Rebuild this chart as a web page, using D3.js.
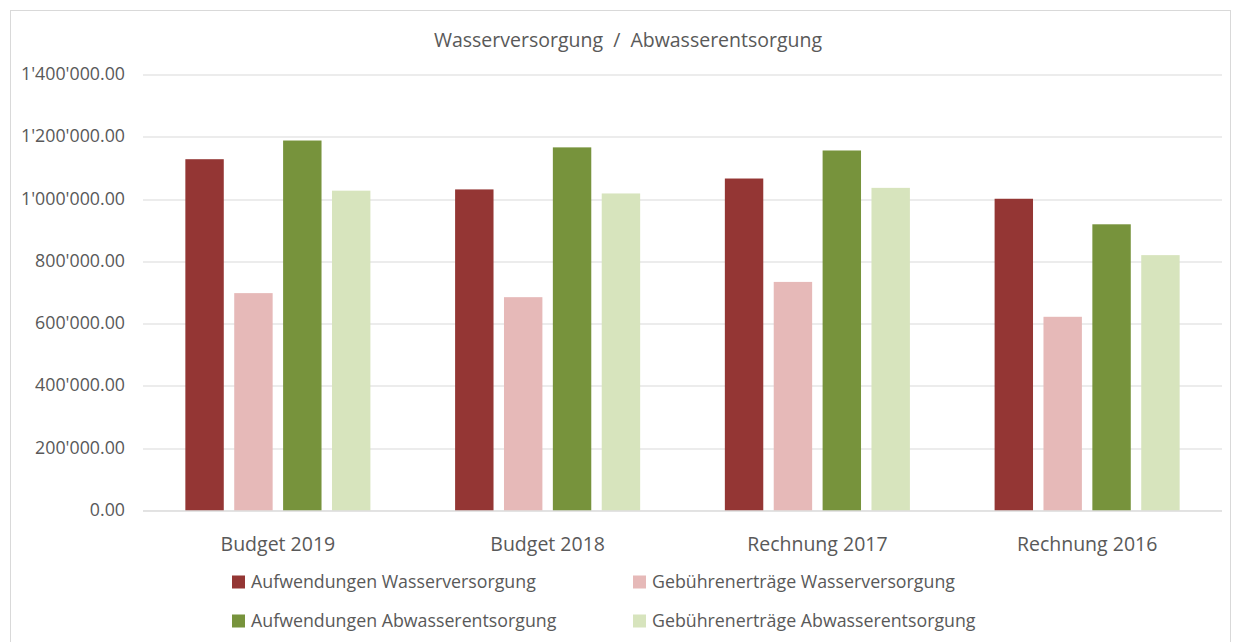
<!DOCTYPE html>
<html>
<head>
<meta charset="utf-8">
<script src="https://cdn.jsdelivr.net/npm/d3@7"></script>
<style>
  body { margin: 0; background: #fff; }
  svg text { font-family: "Open Sans", "Noto Sans", sans-serif; fill: #595959; }
</style>
</head>
<body>
<svg id="chart" width="1240" height="642"></svg>
<script>
var categories = ["Budget 2019", "Budget 2018", "Rechnung 2017", "Rechnung 2016"];
var seriesNames = [
  "Aufwendungen Wasserversorgung",
  "Gebührenerträge Wasserversorgung",
  "Aufwendungen Abwasserentsorgung",
  "Gebührenerträge Abwasserentsorgung"
];
var aufwWasser = [1128000, 1031000, 1066000, 1001000];
var gebWasser = [698000, 685000, 734000, 622000];
var aufwAbwasser = [1188000, 1166000, 1156000, 919000];
var gebAbwasser = [1027000, 1018000, 1036000, 820000];
var colors = ["#943634", "#E6B9B8", "#77933C", "#D7E4BD"];
var yTicks = [0, 200000, 400000, 600000, 800000, 1000000, 1200000, 1400000];

var seriesValues = [aufwWasser, gebWasser, aufwAbwasser, gebAbwasser];
var data = categories.map(function (c, i) {
  return seriesNames.map(function (s, j) {
    return {cat: c, series: s, value: seriesValues[j][i], color: colors[j]};
  });
});

var svg = d3.select("#chart"),
    margin = {top: 74.5, left: 143, right: 18, bottom: 131.5},
    width = 1240 - margin.left - margin.right,
    height = 642 - margin.top - margin.bottom;

// chart border
svg.append("rect")
  .attr("x", 10.5).attr("y", 10.5)
  .attr("width", 1220).attr("height", 650)
  .attr("fill", "none").attr("stroke", "#d9d9d9");

svg.append("text")
  .attr("x", 628).attr("y", 47)
  .attr("text-anchor", "middle")
  .style("font-size", "19.5px")
  .attr("xml:space", "preserve")
  .text("Wasserversorgung  /  Abwasserentsorgung");

var g = svg.append("g").attr("transform", "translate(" + margin.left + "," + margin.top + ")");

var x0 = d3.scaleBand()
  .domain(categories)
  .range([0, width])
  .paddingInner(0.314)
  .paddingOuter(0.157);

var x1 = d3.scaleBand()
  .domain(seriesNames)
  .range([0, x0.bandwidth()])
  .paddingInner(0.214);

var y = d3.scaleLinear()
  .domain([0, 1400000])
  .range([height, 0]);

var fmt = function (d) {
  return d3.format(",.2f")(d).replace(/,/g, "'");
};

// gridlines
g.append("g")
  .attr("class", "grid")
  .selectAll("line")
  .data(yTicks)
  .enter()
  .append("line")
  .attr("x1", 0).attr("x2", width)
  .attr("y1", function (d) { return Math.round(y(d)) + 0.5; })
  .attr("y2", function (d) { return Math.round(y(d)) + 0.5; })
  .attr("stroke", "#d9d9d9");

// y axis labels
var yAxis = g.append("g")
  .call(d3.axisLeft(y).tickValues(yTicks).tickFormat(fmt).tickSize(0).tickPadding(18));
yAxis.select(".domain").remove();
yAxis.selectAll("text").style("font-size", "17.8px").attr("dy", "0.28em").attr("fill", "#595959");

// bars
g.selectAll(".bar-group")
  .data(data)
  .enter()
  .append("g")
  .attr("class", "bar-group")
  .attr("transform", function (d) { return "translate(" + x0(d[0].cat) + ",0)"; })
  .selectAll("rect")
  .data(function (d) { return d; })
  .enter()
  .append("rect")
  .attr("x", function (d) { return x1(d.series); })
  .attr("y", function (d) { return y(d.value); })
  .attr("width", x1.bandwidth())
  .attr("height", function (d) { return height - y(d.value); })
  .attr("fill", function (d) { return d.color; });

// x axis line and labels
g.append("line")
  .attr("x1", 0).attr("x2", width)
  .attr("y1", height + 0.5).attr("y2", height + 0.5)
  .attr("stroke", "#d9d9d9");

var xAxis = g.append("g")
  .attr("transform", "translate(0," + height + ")")
  .call(d3.axisBottom(x0).tickSize(0).tickPadding(27));
xAxis.select(".domain").remove();
xAxis.selectAll("text").style("font-size", "19.5px").attr("fill", "#595959");

// legend
var legendPos = [[232, 582], [633, 582], [232, 621], [633, 621]];
var legend = svg.selectAll(".legend")
  .data(seriesNames)
  .enter()
  .append("g")
  .attr("class", "legend")
  .attr("transform", function (d, i) { return "translate(" + legendPos[i][0] + "," + legendPos[i][1] + ")"; });

legend.append("rect")
  .attr("x", 0).attr("y", -6.5)
  .attr("width", 13).attr("height", 13)
  .attr("fill", function (d, i) { return colors[i]; });

legend.append("text")
  .attr("x", 19).attr("y", 0)
  .attr("dy", "0.36em")
  .style("font-size", "17.8px")
  .text(function (d) { return d; });
</script>
</body>
</html>
